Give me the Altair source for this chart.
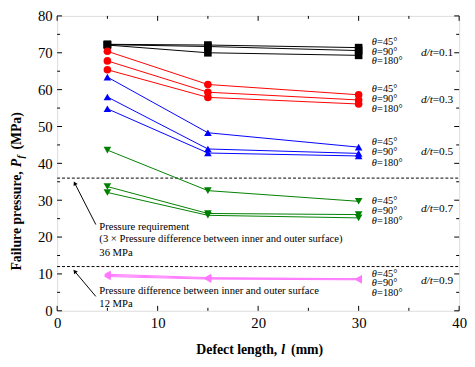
import math
import altair as alt
import pandas as pd

# ---------------- data ----------------
defect_length = [5, 15, 30]
dt_groups = ["0.1", "0.3", "0.5", "0.7", "0.9"]
thetas = ["45", "90", "180"]

dt01_45 = [72.3, 72.1, 71.4]
dt01_90 = [72.2, 71.7, 70.6]
dt01_180 = [72.1, 70.0, 69.3]
dt03_45 = [70.4, 61.4, 58.6]
dt03_90 = [67.8, 59.3, 57.2]
dt03_180 = [65.4, 57.9, 56.1]
dt05_45 = [63.4, 48.3, 44.4]
dt05_90 = [58.0, 43.9, 42.7]
dt05_180 = [54.8, 42.8, 42.0]
dt07_45 = [43.6, 32.6, 29.7]
dt07_90 = [33.7, 26.4, 26.1]
dt07_180 = [32.1, 25.9, 25.2]
dt09_45 = [9.9, 9.0, 8.7]
dt09_90 = [9.6, 8.8, 8.6]
dt09_180 = [9.3, 8.6, 8.4]

series = {
    ("0.1", "45"): dt01_45, ("0.1", "90"): dt01_90, ("0.1", "180"): dt01_180,
    ("0.3", "45"): dt03_45, ("0.3", "90"): dt03_90, ("0.3", "180"): dt03_180,
    ("0.5", "45"): dt05_45, ("0.5", "90"): dt05_90, ("0.5", "180"): dt05_180,
    ("0.7", "45"): dt07_45, ("0.7", "90"): dt07_90, ("0.7", "180"): dt07_180,
    ("0.9", "45"): dt09_45, ("0.9", "90"): dt09_90, ("0.9", "180"): dt09_180,
}

# reference lines (MPa)
req_values = [36, 12]

# annotation texts
ann_text = [
    "Pressure requirement",
    "(3 \u00d7 Pressure difference between inner and outer surface)",
    "36 MPa",
    "Pressure difference between inner and outer surface",
    "12 MPa",
]
ann_y = [22.8, 19.4, 15.6, 5.4, 1.9]
ann_x = [4.2, 4.2, 4.2, 4.2, 4.2]

# arrows (tail -> tip), data coordinates
arrow_tail_x = [3.85, 3.85]
arrow_tail_y = [23.4, 3.9]
arrow_tip_x = [1.75, 1.75]
arrow_tip_y = [34.6, 10.7]

# right-hand labels
theta_label_x = 31.3
theta_label_y = [73.0, 70.3, 67.7, 60.2, 57.5, 54.7, 45.9, 43.0, 40.2,
                 29.7, 27.0, 24.3, 10.1, 7.5, 4.8]
dt_label_x = 36.2
dt_label_y = [70.0, 57.2, 43.0, 27.6, 8.1]

x_major = [0, 10, 20, 30, 40]
x_minor = [5, 15, 25, 35]
y_major = [0, 10, 20, 30, 40, 50, 60, 70, 80]
y_minor = [5, 15, 25, 35, 45, 55, 65, 75]

colors = ["#000000", "#FF0000", "#0000FF", "#008000", "#FF78FF"]
shapes = ["square", "circle", "triangle-up", "triangle-down", "triangle-left"]
marker_sizes = [60, 60, 70, 70, 90]

# ---------------- build tables ----------------
rows = []
for (g, t), vals in series.items():
    for x, v in zip(defect_length, vals):
        rows.append({"x": x, "y": v, "group": g, "series": g + "-" + t})
df = pd.DataFrame(rows)

W, H = 409, 300
FONT = "Liberation Serif"

xs = alt.Scale(domain=[0, 40], nice=False, zero=False)
ys = alt.Scale(domain=[0, 80], nice=False, zero=False)
x_axis = alt.Axis(values=x_major, title=None, ticks=False, domain=False, grid=False,
                  labelFont=FONT, labelFontSize=15, labelColor="black",
                  labelPadding=5, labelFlush=False, labelOverlap=False)
y_axis = alt.Axis(values=y_major, title=None, ticks=False, domain=False, grid=False,
                  labelFont=FONT, labelFontSize=15, labelColor="black",
                  labelPadding=5, labelFlush=False, labelOverlap=False)

def X(f="x"):
    return alt.X(f + ":Q", scale=xs, axis=x_axis)

def Y(f="y"):
    return alt.Y(f + ":Q", scale=ys, axis=y_axis)

color_enc = alt.Color("group:N", scale=alt.Scale(domain=dt_groups, range=colors), legend=None)
shape_enc = alt.Shape("group:N", scale=alt.Scale(domain=dt_groups, range=shapes), legend=None)
size_enc = alt.Size("group:N", scale=alt.Scale(domain=dt_groups, range=marker_sizes), legend=None)

lines = alt.Chart(df).mark_line(strokeWidth=1).encode(
    x=X(), y=Y(), color=color_enc, detail="series:N")
points = alt.Chart(df).mark_point(filled=True, opacity=1).encode(
    x=X(), y=Y(), color=color_enc, shape=shape_enc, size=size_enc)

req_df = pd.DataFrame({"y": req_values})
req = alt.Chart(req_df).mark_rule(color="black", strokeWidth=1, strokeDash=[3, 2]).encode(
    x=alt.value(0), x2=alt.value(W), y=Y())

ann_df = pd.DataFrame({"x": ann_x, "y": ann_y, "t": ann_text})
ann = alt.Chart(ann_df).mark_text(align="left", baseline="middle", font=FONT,
                                  fontSize=10.8, color="black").encode(
    x=X(), y=Y(), text="t:N")

# arrows
sx = W / 40.0
sy = H / 80.0
arr_rows = []
for tx, ty, hx, hy in zip(arrow_tail_x, arrow_tail_y, arrow_tip_x, arrow_tip_y):
    dxp = (hx - tx) * sx
    dyp = -(hy - ty) * sy
    ang = (math.degrees(math.atan2(dxp, -dyp)) + 360) % 360
    arr_rows.append({"x": tx, "y": ty, "x2": hx, "y2": hy, "ang": ang})
arr_df = pd.DataFrame(arr_rows)
arrow_lines = alt.Chart(arr_df).mark_rule(color="black", strokeWidth=1).encode(
    x=X(), y=Y(), x2="x2:Q", y2="y2:Q")
arrow_heads = alt.Chart(arr_df).mark_point(shape="triangle-up", filled=True, opacity=1,
                                           size=22, color="black").encode(
    x=X("x2"), y=Y("y2"), angle=alt.Angle("ang:Q", scale=None))

# right-hand labels
th_rows = []
for i, yv in enumerate(theta_label_y):
    th_rows.append({"x": theta_label_x, "y": yv, "th": "\u03b8",
                    "rest": "=" + thetas[i % 3] + "\u00b0"})
th_df = pd.DataFrame(th_rows)
th_sym = alt.Chart(th_df).mark_text(align="left", baseline="middle", font=FONT,
                                    fontSize=10.5, fontStyle="italic", color="black").encode(
    x=X(), y=Y(), text="th:N")
th_rest = alt.Chart(th_df).mark_text(align="left", baseline="middle", font=FONT,
                                     fontSize=10.5, color="black", dx=5.5).encode(
    x=X(), y=Y(), text="rest:N")

dt_df = pd.DataFrame({"x": [dt_label_x] * 5, "y": dt_label_y,
                      "a": ["d/t"] * 5, "b": ["=" + g for g in dt_groups]})
dt_a = alt.Chart(dt_df).mark_text(align="left", baseline="middle", font=FONT,
                                  fontSize=11.5, fontStyle="italic", color="black").encode(
    x=X(), y=Y(), text="a:N")
dt_b = alt.Chart(dt_df).mark_text(align="left", baseline="middle", font=FONT,
                                  fontSize=11.5, color="black", dx=12).encode(
    x=X(), y=Y(), text="b:N")

# inward ticks on all four sides
def xticks(vals, L):
    d = pd.DataFrame({"x": vals})
    b = alt.Chart(d).mark_rule(color="black", strokeWidth=1).encode(
        x=X(), y=alt.value(H), y2=alt.value(H - L))
    t = alt.Chart(d).mark_rule(color="black", strokeWidth=1).encode(
        x=X(), y=alt.value(0), y2=alt.value(L))
    return [b, t]

def yticks(vals, L):
    d = pd.DataFrame({"y": vals})
    l = alt.Chart(d).mark_rule(color="black", strokeWidth=1).encode(
        y=Y(), x=alt.value(0), x2=alt.value(L))
    r = alt.Chart(d).mark_rule(color="black", strokeWidth=1).encode(
        y=Y(), x=alt.value(W), x2=alt.value(W - L))
    return [l, r]

ticks = xticks(x_major, 5) + xticks(x_minor, 3) + yticks(y_major, 5) + yticks(y_minor, 3)

# axis titles (built from pieces for italic symbols)
xt_df = pd.DataFrame({"a": ["Defect length,"], "b": ["l"], "c": ["(mm)"]})
XT_X, XT_Y = 228, 340
xt_a = alt.Chart(xt_df).mark_text(align="right", baseline="middle", font=FONT, fontSize=14,
                                  fontWeight="bold", color="black", dx=-4).encode(
    x=alt.value(XT_X), y=alt.value(XT_Y), text="a:N")
xt_b = alt.Chart(xt_df).mark_text(align="left", baseline="middle", font=FONT, fontSize=14,
                                  fontWeight="bold", fontStyle="italic", color="black").encode(
    x=alt.value(XT_X), y=alt.value(XT_Y), text="b:N")
xt_c = alt.Chart(xt_df).mark_text(align="left", baseline="middle", font=FONT, fontSize=14,
                                  fontWeight="bold", color="black", dx=10).encode(
    x=alt.value(XT_X), y=alt.value(XT_Y), text="c:N")

yt_df = pd.DataFrame({"a": ["Failure pressure,"], "b": ["P"], "c": ["f"], "d": ["(MPa)"]})
YT_X, YT_Y = -41, 154
yt_a = alt.Chart(yt_df).mark_text(align="right", baseline="middle", font=FONT, fontSize=14,
                                  fontWeight="bold", color="black", angle=270, dx=-4).encode(
    x=alt.value(YT_X), y=alt.value(YT_Y), text="a:N")
yt_b = alt.Chart(yt_df).mark_text(align="left", baseline="middle", font=FONT, fontSize=14,
                                  fontWeight="bold", fontStyle="italic", color="black",
                                  angle=270).encode(
    x=alt.value(YT_X), y=alt.value(YT_Y), text="b:N")
yt_c = alt.Chart(yt_df).mark_text(align="left", baseline="middle", font=FONT, fontSize=10,
                                  fontWeight="bold", fontStyle="italic", color="black",
                                  angle=270, dx=9, dy=4).encode(
    x=alt.value(YT_X), y=alt.value(YT_Y), text="c:N")
yt_d = alt.Chart(yt_df).mark_text(align="left", baseline="middle", font=FONT, fontSize=14,
                                  fontWeight="bold", color="black", angle=270, dx=18).encode(
    x=alt.value(YT_X), y=alt.value(YT_Y), text="d:N")

chart = alt.layer(
    *ticks, req, arrow_lines, arrow_heads, lines, points, ann,
    th_sym, th_rest, dt_a, dt_b,
    xt_a, xt_b, xt_c, yt_a, yt_b, yt_c, yt_d,
).properties(
    width=W, height=H,
    autosize=alt.AutoSizeParams(type="none"),
    padding={"left": 50, "top": 5, "right": 8, "bottom": 46},
).configure_view(stroke="black", strokeWidth=1.2).configure(font=FONT)

chart.save("out.html", embed_options={"renderer": "svg", "actions": False})
